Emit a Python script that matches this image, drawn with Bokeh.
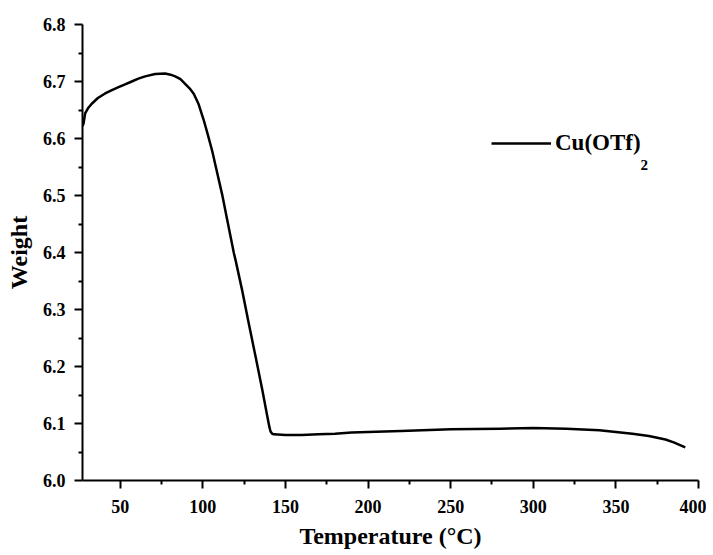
from bokeh.plotting import figure
from bokeh.models import (Range1d, FixedTicker, PrintfTickFormatter, Legend, LegendItem, Label,
                          ColumnDataSource)
from bokeh.embed import file_html
from bokeh.resources import INLINE

# ---- data ----
temperature = [27.2, 27.8, 28.8, 30.5, 32.8, 36.5, 40.9, 45, 49.0, 53, 57.0, 61, 65.1, 71.2,
               77.2, 80.5, 83.3, 86.5, 89.3, 92, 94.6, 97.5, 100.6, 103.2, 105.7, 108.7, 111.7,
               114.8, 116.8, 118.8, 119.8, 123.8, 127.8, 131.9, 136.0, 139.0, 140.3, 141.0, 142,
               143.0, 150, 160, 170, 180, 190, 200, 220, 250, 280, 300, 320, 340, 350, 360, 370,
               375, 380, 385, 392]
weight = [6.622, 6.626, 6.644, 6.653, 6.661, 6.671, 6.679, 6.685, 6.690, 6.695, 6.700, 6.705,
          6.709, 6.713, 6.714, 6.712, 6.709, 6.704, 6.696, 6.688, 6.678, 6.660, 6.632, 6.605,
          6.578, 6.540, 6.502, 6.457, 6.428, 6.399, 6.387, 6.334, 6.276, 6.218, 6.159, 6.113,
          6.094, 6.086, 6.082, 6.081, 6.080, 6.080, 6.081, 6.082, 6.084, 6.085, 6.087, 6.090,
          6.091, 6.092, 6.091, 6.088, 6.085, 6.082, 6.078, 6.075, 6.072, 6.067, 6.058]
x_ticks = [50, 100, 150, 200, 250, 300, 350, 400]
x_minor = [75, 125, 175, 225, 275, 325, 375]
y_ticks = [6.0, 6.1, 6.2, 6.3, 6.4, 6.5, 6.6, 6.7, 6.8]
y_minor = [6.05, 6.15, 6.25, 6.35, 6.45, 6.55, 6.65, 6.75]
series_name = "Cu(OTf)"
series_sub = "2"

FONT = "Liberation Serif"

p = figure(width=706, height=551, output_backend="svg", toolbar_location=None,
           x_range=Range1d(27.2, 400), y_range=Range1d(6.0, 6.8),
           min_border_left=82, min_border_right=8, min_border_top=24, min_border_bottom=70)
p.outline_line_color = None
p.grid.visible = False
p.background_fill_color = "white"
p.border_fill_color = "white"

src = ColumnDataSource(dict(x=temperature, y=weight))
r = p.line("x", "y", source=src, line_color="black", line_width=2.5, line_join="round")

p.xaxis.ticker = FixedTicker(ticks=x_ticks, minor_ticks=x_minor)
p.yaxis.ticker = FixedTicker(ticks=y_ticks, minor_ticks=y_minor)
p.xaxis.formatter = PrintfTickFormatter(format="%d")
p.yaxis.formatter = PrintfTickFormatter(format="%.1f")

for ax in (p.xaxis[0], p.yaxis[0]):
    ax.axis_line_width = 2
    ax.axis_line_color = "black"
    ax.major_tick_line_width = 2
    ax.minor_tick_line_width = 2
    ax.major_tick_line_color = "black"
    ax.minor_tick_line_color = "black"
    ax.major_tick_in = 0
    ax.major_tick_out = 8
    ax.minor_tick_in = 0
    ax.minor_tick_out = 4
    ax.major_label_text_font = FONT
    ax.major_label_text_font_style = "bold"
    ax.major_label_text_font_size = "18px"
    ax.major_label_text_color = "black"
    ax.axis_label_text_font = FONT
    ax.axis_label_text_font_style = "bold"
    ax.axis_label_text_font_size = "24px"
    ax.axis_label_text_color = "black"

p.xaxis.axis_label = "Temperature (°C)"
p.yaxis.axis_label = "Weight"
p.xaxis.major_label_standoff = 11
p.yaxis.major_label_standoff = 9
p.xaxis.axis_label_standoff = 7
p.yaxis.axis_label_standoff = 8

legend = Legend(items=[LegendItem(label=series_name, renderers=[r])], location=(409, 324),
                label_text_font=FONT, label_text_font_style="bold", label_text_font_size="23px",
                label_text_color="black", glyph_width=60, label_standoff=4, padding=0, margin=0,
                border_line_alpha=0, background_fill_alpha=0)
p.add_layout(legend)

sub = Label(x=558, y=316, x_units="screen", y_units="screen", text=series_sub,
            text_font=FONT, text_font_style="bold", text_font_size="15px", text_color="black",
            text_baseline="alphabetic")
p.add_layout(sub)

open("out.html", "w").write(file_html(p, INLINE))
